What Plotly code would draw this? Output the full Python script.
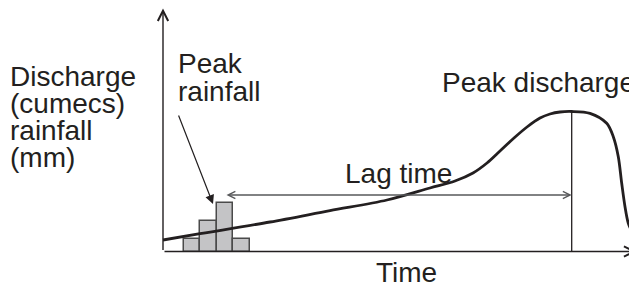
import plotly.graph_objects as go

# ---- data (time units, value units) ----
rain_time = [2.9, 4.55, 6.2, 7.85]
rain_mm = [1.28, 3.08, 4.82, 1.22]
bar_width = 1.65

hydro_time = [0.0, 3.7, 10.7, 16.7, 22.4, 26.7, 29.2, 31.0, 32.4, 33.7, 35.1, 36.4,
              37.7, 38.7, 39.7, 40.87, 42.7, 44.37, 45.03, 45.53, 45.87, 46.2, 46.53, 46.97]
hydro_q = [1.15, 1.78, 2.95, 4.09, 5.15, 6.35, 7.05, 7.85, 8.85, 10.05, 11.35, 12.45,
           13.35, 13.75, 13.95, 14.0, 13.82, 12.82, 11.48, 9.48, 6.82, 4.48, 2.82, 1.82]

# window geometry (page body adds an 8px margin)
WIN_W, WIN_H, OFF = 637, 289, 8
W, H = WIN_W - OFF, WIN_H - OFF
X0, Y0 = 163.0 - OFF, 251.5 - OFF   # figure pixel of origin
S = 10.0                            # pixels per unit
xr = [-X0 / S, (W - X0) / S]
yr = [-(H - Y0) / S, Y0 / S]


def ux(px):  # window pixel x -> data x
    return (px - OFF - X0) / S


def uy(py):  # window pixel y -> data y
    return (Y0 - (py - OFF)) / S


ink = "#231f20"
FONT = "Liberation Sans, Arial, Helvetica, sans-serif"
FS = 28

peak_i = max(range(len(hydro_q)), key=lambda i: hydro_q[i])
peak_t, peak_q = hydro_time[peak_i], hydro_q[peak_i]
rain_i = max(range(len(rain_mm)), key=lambda i: rain_mm[i])
rain_peak_t = rain_time[rain_i]

fig = go.Figure()
fig.add_trace(go.Bar(x=rain_time, y=rain_mm, width=bar_width,
                     marker=dict(color="#c4c4c6", line=dict(color="#4a4a4a", width=1.5)),
                     hoverinfo="skip", showlegend=False))
fig.add_trace(go.Scatter(x=[peak_t, peak_t], y=[0, peak_q], mode="lines",
                         line=dict(color=ink, width=1.3), showlegend=False, hoverinfo="skip"))
fig.add_trace(go.Scatter(x=hydro_time, y=hydro_q, mode="lines",
                         line=dict(color=ink, width=2.8, shape="spline", smoothing=0.9),
                         showlegend=False, hoverinfo="skip"))

anns = []
# axes arrows
anns.append(dict(x=0, y=uy(8.4), ax=0, ay=0, xref="x", yref="y", axref="x", ayref="y",
                 showarrow=True, arrowhead=5, arrowsize=1.45, arrowwidth=1.4, arrowcolor=ink, text=""))
anns.append(dict(x=ux(636.5), y=0, ax=0, ay=0, xref="x", yref="y", axref="x", ayref="y",
                 showarrow=True, arrowhead=5, arrowsize=1.45, arrowwidth=1.4, arrowcolor=ink, text=""))
# lag time arrow
lag_y = uy(195)
anns.append(dict(x=peak_t, y=lag_y, ax=rain_peak_t, ay=lag_y, xref="x", yref="y", axref="x", ayref="y",
                 showarrow=True, arrowhead=5, startarrowhead=5, arrowside="end+start",
                 arrowsize=1.1, startarrowsize=1.1, arrowwidth=1.3, arrowcolor="#58595b", text=""))
# peak rainfall pointer
anns.append(dict(x=ux(213), y=uy(204), ax=ux(178), ay=uy(114),
                 xref="x", yref="y", axref="x", ayref="y",
                 showarrow=True, arrowhead=2, arrowsize=1.5, arrowwidth=1.2, arrowcolor=ink, text=""))


def label(text, left_px, baseline_px):
    return dict(text=text, x=(left_px - OFF) / W,
                y=1 - (baseline_px - OFF - 0.347 * FS) / H,
                xref="paper", yref="paper", xanchor="left", yanchor="middle",
                showarrow=False, font=dict(family=FONT, size=FS, color=ink))


anns += [
    label("Discharge", 8, 86.5),
    label("(cumecs)", 8, 113.5),
    label("rainfall", 8, 140.5),
    label("(mm)", 8, 167.5),
    label("Peak", 176, 73.3),
    label("rainfall", 176, 101.7),
    label("Peak discharge", 439.5, 92.5),
    label("Lag time", 343, 183),
    label("Time", 374, 282),
]

fig.update_layout(
    width=W, height=H, margin=dict(l=0, r=0, t=0, b=0),
    paper_bgcolor="white", plot_bgcolor="white",
    xaxis=dict(range=xr, visible=False, fixedrange=True),
    yaxis=dict(range=yr, visible=False, fixedrange=True),
    annotations=anns, bargap=0,
)
fig.write_html("out.html")
